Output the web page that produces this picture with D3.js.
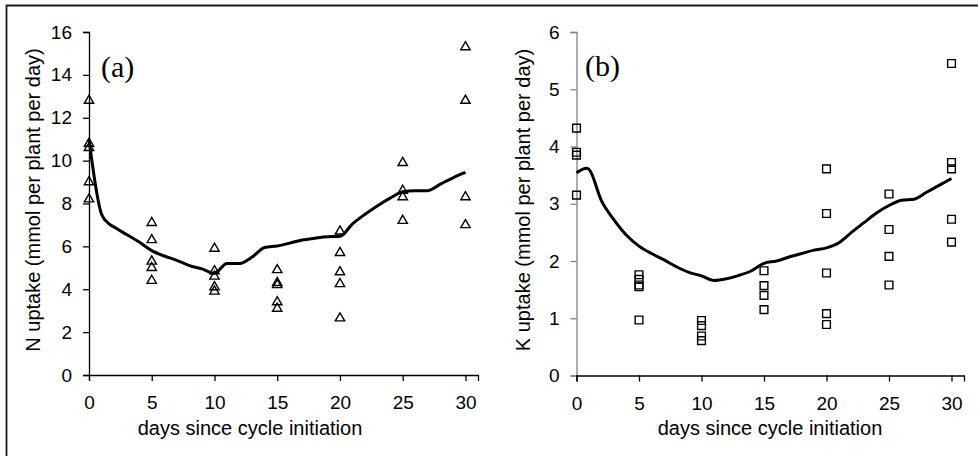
<!DOCTYPE html>
<html>
<head>
<meta charset="utf-8">
<script src="https://cdn.jsdelivr.net/npm/d3@7"></script>
<style>
  body { margin: 0; background: #fff; }
  svg { display: block; }
  text { font-family: "Liberation Sans", Arial, sans-serif; fill: #000; }
</style>
</head>
<body>
<div id="chart"></div>
<script>
// sampling days for the observed points
const nDays = [0,0,0,0,0, 5,5,5,5,5, 10,10,10,10,10, 15,15,15,15,15, 20,20,20,20,20, 25,25,25,25, 30,30,30,30];
const nObs  = [12.8,10.8,10.6,9.0,8.2, 7.1,6.3,5.3,5.0,4.4, 5.9,4.85,4.6,4.1,3.9, 4.9,4.3,4.2,3.4,3.1, 6.7,5.7,4.8,4.25,2.65, 9.9,8.6,8.3,7.2, 15.3,12.8,8.3,7.0];

const kDays = [0,0,0,0, 5,5,5,5,5, 10,10,10,10, 15,15,15,15, 20,20,20,20,20, 25,25,25,25, 30,30,30,30,30];
const kObs  = [4.32,3.9,3.85,3.15, 1.76,1.68,1.58,1.55,0.97, 0.96,0.87,0.69,0.61, 1.83,1.57,1.4,1.15, 3.61,2.83,1.79,1.08,0.89, 3.17,2.55,2.08,1.58, 5.45,3.72,3.61,2.73,2.33];

// simulated uptake curves
const lineDays = [0,1,1.6,2,3,4,5,6,7,8,9,10,11,12,13,14,15,16,17,18,19,20,21,22,23,24,25,26,27,28,29,30];
const nLine = [11.0,7.5,7.05,6.9,6.55,6.2,5.8,5.55,5.35,5.1,4.95,4.75,5.2,5.2,5.5,5.95,6.02,6.15,6.3,6.38,6.45,6.47,7.05,7.5,7.9,8.25,8.55,8.6,8.6,8.9,9.2,9.45];
const kLineDays = [0,0.8,1,2,3,4,5,6,7,8,9,10,11,12,13,14,15,16,17,18,19,20,21,22,23,24,25,26,27,28,29,30];
const kLine = [3.54,3.62,3.6,3.05,2.72,2.45,2.26,2.13,2.02,1.9,1.8,1.74,1.66,1.69,1.75,1.83,1.96,2.0,2.07,2.13,2.19,2.23,2.32,2.5,2.67,2.84,2.97,3.06,3.08,3.2,3.32,3.44];

const xTicks = [0,5,10,15,20,25,30];
const nTicks = [0,2,4,6,8,10,12,14,16];
const kTicks = [0,1,2,3,4,5,6];

const width = 978;
const height = 456;

const svg = d3.select("#chart")
  .append("svg")
  .attr("width", width)
  .attr("height", height);

// outer frame (top and left edges only)
svg.append("path")
  .attr("d", "M6.5,456V5.5H978")
  .attr("fill", "none")
  .attr("stroke", "#1a1a1a")
  .attr("stroke-width", 1.8);

const panels = [
  {
    left: 89, right: 478, top: 32, bottom: 375, yMax: 16, ticks: nTicks,
    days: nDays, obs: nObs, lx: lineDays, ly: nLine,
    symbol: d3.symbolTriangle, symSize: 38, yAxisColor: "#000",
    label: "(a)", labelX: 101, labelY: 77,
    yTitle: "N uptake (mmol per plant per day)", yTitleX: 33,
    xTitleX: 250
  },
  {
    left: 576.5, right: 964, top: 32, bottom: 375.5, yMax: 6, ticks: kTicks,
    days: kDays, obs: kObs, lx: kLineDays, ly: kLine,
    symbol: d3.symbolSquare, symSize: 60, yAxisColor: "#808080",
    label: "(b)", labelX: 585, labelY: 76,
    yTitle: "K uptake (mmol per plant per day)", yTitleX: 523,
    xTitleX: 770
  }
];

panels.forEach((p) => {
  const x = d3.scaleLinear().domain([0, 31]).range([p.left, p.right]);
  const y = d3.scaleLinear().domain([0, p.yMax]).range([p.bottom, p.top]);

  // y axis
  const yAxis = svg.append("g")
    .attr("transform", "translate(" + p.left + ",0)")
    .call(d3.axisLeft(y).tickValues(p.ticks).tickFormat(d3.format("d"))
      .tickSizeOuter(0).tickSize(6).tickPadding(11));
  yAxis.select(".domain").attr("stroke", p.yAxisColor).attr("stroke-width", 1.3);
  yAxis.selectAll(".tick line").attr("stroke", p.yAxisColor).attr("stroke-width", 1.3);
  yAxis.selectAll(".tick text")
    .style("font-size", "19px")
    .style("font-family", "'Liberation Sans', Arial, sans-serif")
    .attr("fill", "#000");

  // x axis
  const xAxis = svg.append("g")
    .attr("transform", "translate(0," + p.bottom + ")")
    .call(d3.axisBottom(x).tickValues(xTicks).tickFormat(d3.format("d"))
      .tickSizeOuter(0).tickSize(6).tickPadding(15));
  xAxis.select(".domain").attr("stroke", "#000").attr("stroke-width", 1.3);
  xAxis.selectAll(".tick line").attr("stroke", "#000").attr("stroke-width", 1.3);
  xAxis.selectAll(".tick text")
    .style("font-size", "19px")
    .style("font-family", "'Liberation Sans', Arial, sans-serif")
    .attr("fill", "#000");

  // observed points
  const pts = p.days.map((d, i) => ({ day: d, value: p.obs[i] }));
  svg.append("g")
    .selectAll("path")
    .data(pts)
    .enter()
    .append("path")
    .attr("transform", (d) => "translate(" + x(d.day) + "," + y(d.value) + ")")
    .attr("d", d3.symbol().type(p.symbol).size(p.symSize))
    .attr("fill", "none")
    .attr("stroke", "#000")
    .attr("stroke-width", 1.4);

  // model line
  const curve = p.lx.map((d, i) => [d, p.ly[i]]);
  svg.append("path")
    .datum(curve)
    .attr("fill", "none")
    .attr("stroke", "#000")
    .attr("stroke-width", 3)
    .attr("stroke-linejoin", "round")
    .attr("d", d3.line().x((d) => x(d[0])).y((d) => y(d[1])).curve(d3.curveMonotoneX));

  // panel label
  svg.append("text")
    .attr("x", p.labelX)
    .attr("y", p.labelY)
    .style("font-family", "'Liberation Serif', 'Times New Roman', serif")
    .style("font-size", "30px")
    .text(p.label);

  // axis titles
  svg.append("text")
    .attr("x", p.xTitleX)
    .attr("y", 435)
    .attr("text-anchor", "middle")
    .style("font-size", "20px")
    .text("days since cycle initiation");

  svg.append("text")
    .attr("transform", "translate(" + p.yTitleX + ",200) rotate(-90)")
    .attr("text-anchor", "middle")
    .attr("dy", "0.35em")
    .style("font-size", "20px")
    .text(p.yTitle);
});
</script>
</body>
</html>
